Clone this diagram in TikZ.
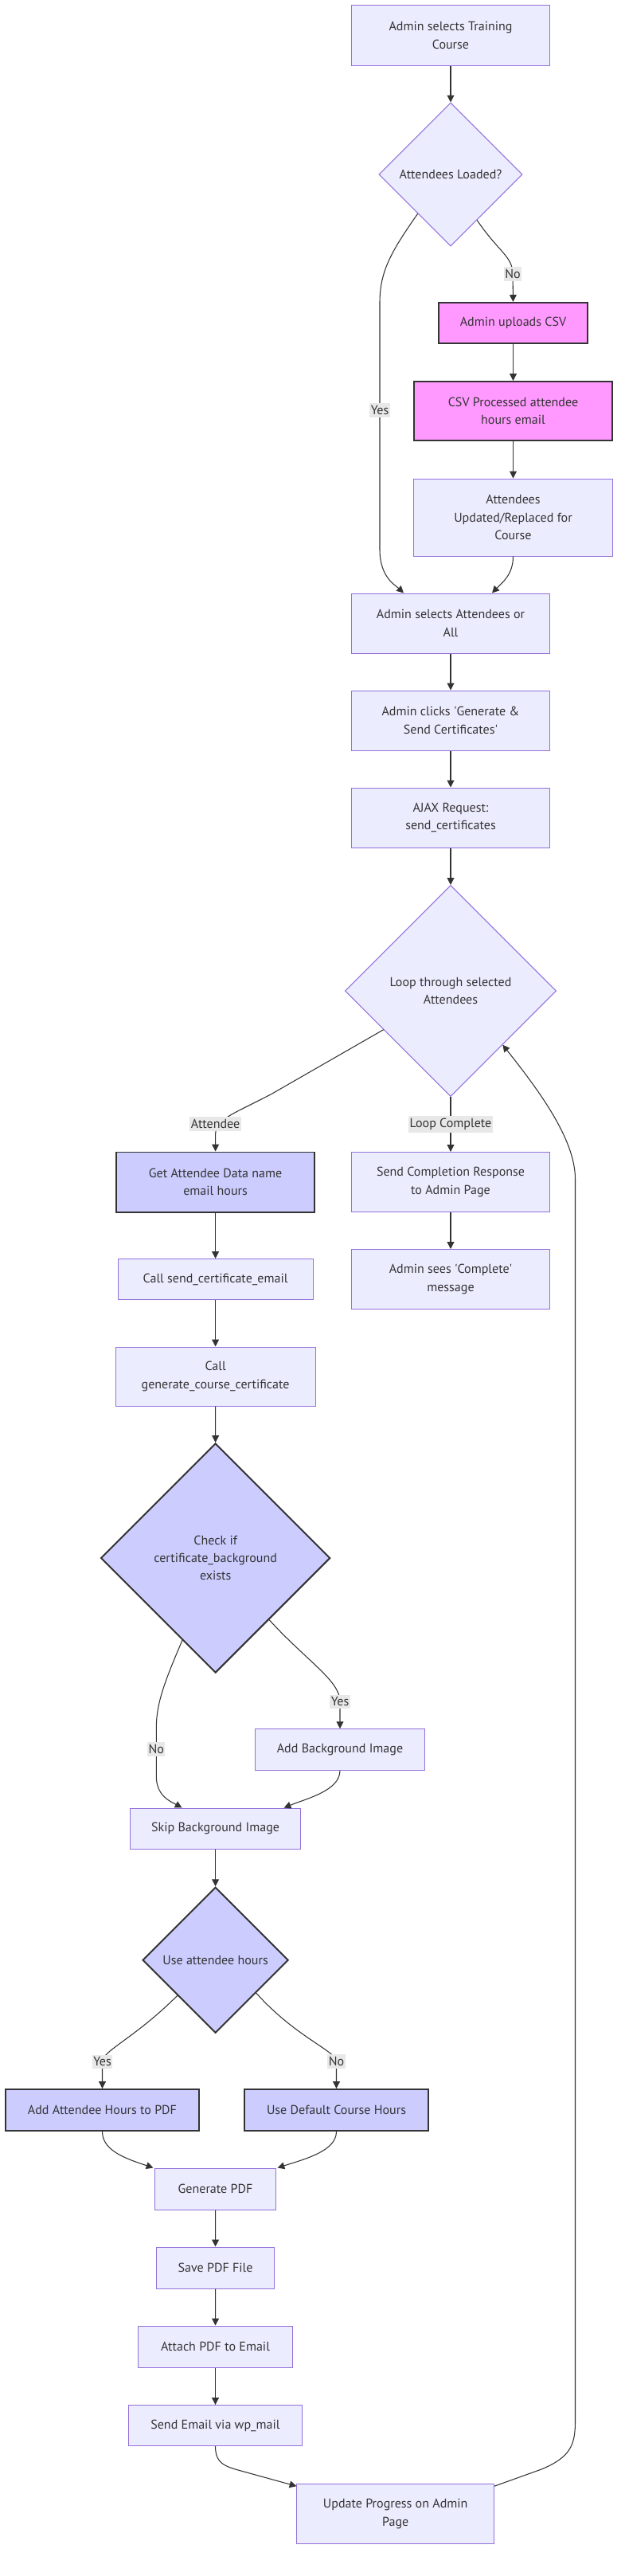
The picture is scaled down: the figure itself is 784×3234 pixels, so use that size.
\documentclass[tikz,border=0pt]{standalone}
\usepackage{fontspec}
\setmainfont{PT Sans}
\usetikzlibrary{arrows.meta,shapes.geometric,calc}
\definecolor{nodefill}{HTML}{ECECFF}
\definecolor{nodeline}{HTML}{9370DB}
\definecolor{darkline}{HTML}{333333}
\definecolor{pinkfill}{HTML}{FF99FF}
\definecolor{bluefill}{HTML}{CCCCFF}
\definecolor{tagfill}{HTML}{E8E8E8}
\tikzset{
  box/.style={rectangle, draw=nodeline, fill=nodefill, line width=0.7pt, text=darkline, align=center, inner sep=2pt, minimum height=1.3cm},
  hot/.style={box, draw=darkline, line width=1.4pt, fill=pinkfill},
  focus/.style={box, draw=darkline, line width=1.4pt, fill=bluefill},
  choice/.style={diamond, aspect=1, draw=nodeline, fill=nodefill, line width=0.7pt, text=darkline, align=center, inner sep=0pt},
  focuschoice/.style={choice, draw=darkline, line width=1.4pt, fill=bluefill},
  arrow/.style={draw=darkline, line width=0.75pt, -{Triangle[length=2.2mm,width=2.2mm]}},
  tag/.style={rectangle, fill=tagfill, text=darkline, inner xsep=1pt, inner ysep=2pt}
}

\begin{document}
\begin{tikzpicture}[x=0.025cm, y=-0.025cm, font=\fontsize{11.4}{15.9}\selectfont]

\useasboundingbox (0,0) rectangle (784,3234);

% boxes
\node [box, minimum width=6.2cm, minimum height=1.875cm] (train) at (566,44.5) {Admin selects Training\\Course};
\node [choice, minimum size=4.5cm] (loaded) at (566,219) {Attendees Loaded?};
\node [hot, minimum width=4.675cm, minimum height=1.275cm] (upload) at (644.5,405.5) {Admin uploads CSV};
\node [hot, minimum width=6.225cm, minimum height=1.85cm] (csvproc) at (644.5,516) {CSV Processed attendee\\hours email};
\node [box, minimum width=6.225cm, minimum height=2.425cm] (updated) at (644.5,649.5) {Attendees\\Updated/Replaced for\\Course};
\node [box, minimum width=6.2cm, minimum height=1.875cm] (attsel) at (566,782.5) {Admin selects Attendees or\\All};
\node [box, minimum width=6.2cm, minimum height=1.875cm] (clicks) at (566,904.5) {Admin clicks \textquotesingle Generate \&\\Send Certificates\textquotesingle};
\node [box, minimum width=6.2cm, minimum height=1.875cm] (ajax) at (566,1026.5) {AJAX Request:\\send\_certificates};
\node [choice, minimum size=6.625cm] (loop) at (566,1244) {Loop through selected\\Attendees};

\node [focus, minimum width=6.225cm, minimum height=1.875cm] (getdata) at (270.6,1484) {Get Attendee Data name\\email hours};
\node [box, minimum width=6.2cm, minimum height=1.875cm] (sendcomp) at (566,1484) {Send Completion Response\\to Admin Page};
\node [box, minimum width=6.2cm, minimum height=1.875cm] (seescomp) at (566,1606) {Admin sees \textquotesingle Complete\textquotesingle\\message};
\node [box, minimum width=6.125cm, minimum height=1.275cm] (callsend) at (270.6,1606) {Call send\_certificate\_email};
\node [box, minimum width=6.275cm, minimum height=1.85cm] (callgen) at (270.6,1728) {Call\\generate\_course\_certificate};
\node [focuschoice, minimum size=7.2cm] (checkbg) at (270.7,1956) {Check if\\certificate\_background\\exists};
\node [box, minimum width=5.325cm, minimum height=1.29cm] (addbg) at (427,2196.5) {Add Background Image};
\node [box, minimum width=5.35cm, minimum height=1.275cm] (skipbg) at (270.6,2295.5) {Skip Background Image};
\node [focuschoice, minimum size=4.575cm] (useatt) at (270.6,2460.7) {Use attendee hours};
\node [focus, minimum width=6.075cm] (addatt) at (128.5,2649) {Add Attendee Hours to PDF};
\node [focus, minimum width=5.775cm] (defhrs) at (422.5,2649) {Use Default Course Hours};
\node [box, minimum width=3.8cm] (genpdf) at (270.5,2748) {Generate PDF};
\node [box, minimum width=3.7125cm] (savepdf) at (270.6,2847) {Save PDF File};
\node [box, minimum width=4.85cm] (attach) at (270.5,2946) {Attach PDF to Email};
\node [box, minimum width=5.45cm, minimum height=1.275cm] (sendmail) at (270.5,3045) {Send Email via wp\_mail};
\node [box, minimum width=6.1875cm, minimum height=1.865cm] (update) at (496.7,3156) {Update Progress on Admin\\Page};

% edges
\draw [arrow] (train) -- (loaded);
\draw [arrow] (loaded.-130) .. controls (492,315) and (477,340) .. (477,380) -- (477,515) node[tag]{Yes} -- (477,690) .. controls (477,725) and (497,735) .. ($(attsel.north)+(-59,0)$);
\draw [arrow] (loaded.-60) .. controls (626,316) and (644,322) .. (644,344) node[tag]{No} -- (upload.north);
\draw [arrow] (upload) -- (csvproc);
\draw [arrow] (csvproc) -- (updated);
\draw [arrow] (updated.south) .. controls (644.5,722) and (630,732) .. ($(attsel.north)+(52,0)$);
\draw [arrow] (attsel) -- (clicks);
\draw [arrow] (clicks) -- (ajax);
\draw [arrow] (ajax) -- (loop);

\draw [arrow] (loop.-150) -- (340,1374) .. controls (290,1400) and (270.6,1405) .. (270.6,1425) -- (getdata.north) node[tag] at (270.6,1411) {Attendee};
\draw [arrow] (loop.south) -- node[tag]{Loop Complete} (sendcomp.north);
\draw [arrow] (sendcomp) -- (seescomp);
\draw [arrow] (getdata) -- (callsend);
\draw [arrow] (callsend) -- (callgen);
\draw [arrow] (callgen) -- (checkbg);

\draw [arrow] (checkbg.-112) .. controls (205,2115) and (196.3,2140) .. (196.3,2170) -- (196.3,2196) node[tag]{No} -- (196.3,2230) .. controls (196.3,2255) and (215,2262) .. ($(skipbg.north)+(-42,0)$);
\draw [arrow] (checkbg.-49) .. controls (385,2085) and (427,2110) .. (427,2136) node[tag]{Yes} -- (addbg.north);
\draw [arrow] (addbg.south) .. controls (427,2248) and (385,2258) .. ($(skipbg.north)+(86,0)$);
\draw [arrow] (skipbg) -- (useatt);

\draw [arrow] (useatt.-137) .. controls (170,2558) and (128.5,2575) .. (128.5,2588) node[tag]{Yes} -- (addatt.north);
\draw [arrow] (useatt.-39) .. controls (372,2558) and (422.5,2575) .. (422.5,2588) node[tag]{No} -- (defhrs.north);
\draw [arrow] (addatt.south) .. controls (128.5,2700) and (158,2710) .. ($(genpdf.north)+(-78,0)$);
\draw [arrow] (defhrs.south) .. controls (422.5,2700) and (385,2710) .. ($(genpdf.north)+(78,0)$);
\draw [arrow] (genpdf) -- (savepdf);
\draw [arrow] (savepdf) -- (attach);
\draw [arrow] (attach) -- (sendmail);
\draw [arrow] (sendmail.south) .. controls (270.5,3095) and (285,3097) .. (310,3104) -- ($(update.north west)+(0,3)$);
\draw [arrow] ($(update.north east)+(0,3)$) -- (680,3100) .. controls (716,3085) and (722.5,3070) .. (722.5,3040) -- (722.5,1480) .. controls (722.5,1430) and (676,1368) .. (loop.-46);

\end{tikzpicture}
\end{document}
